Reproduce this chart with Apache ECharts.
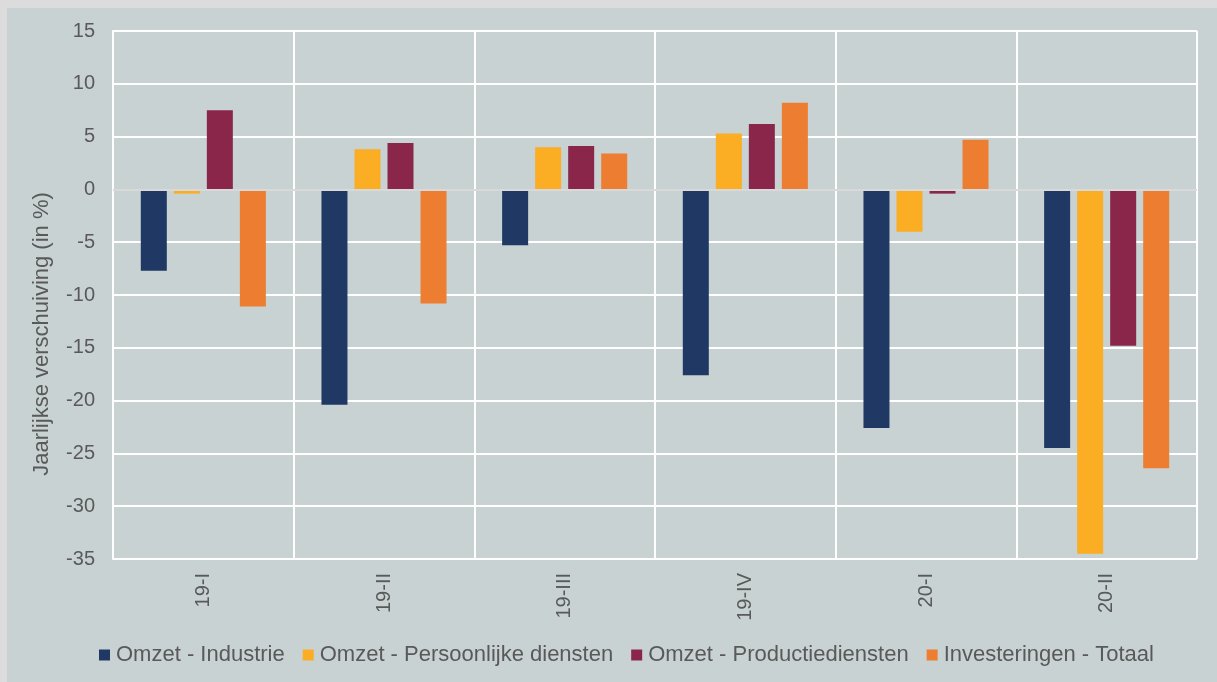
<!DOCTYPE html>
<html lang="nl">
<head>
<meta charset="UTF-8">
<title>Jaarlijkse verschuiving</title>
<script src="https://cdn.jsdelivr.net/npm/echarts@6/dist/echarts.min.js"></script>
<style>
  body { margin: 0; background: #dcdcdc; }
  #chart { position: absolute; left: 7px; top: 8px; width: 1210px; height: 674px; background: #c9d2d3; }
</style>
</head>
<body>
<div id="chart"></div>
<script>
// kwartalen
const categories = ['19-I', '19-II', '19-III', '19-IV', '20-I', '20-II'];

// jaarlijkse verschuiving in %
const industrie    = [-7.7, -20.4, -5.3, -17.6, -22.6, -24.5];
const persoonlijk  = [-0.4,   3.8,  4.0,   5.3,  -4.0, -34.5];
const productie    = [ 7.5,   4.4,  4.1,   6.2,  -0.4, -14.8];
const investering  = [-11.1, -10.8, 3.4,   8.2,   4.7, -26.4];

const seriesNames = ['Omzet - Industrie', 'Omzet - Persoonlijke diensten', 'Omzet - Productiediensten', 'Investeringen - Totaal'];
const colors = ['#1f3864', '#fbad23', '#89264a', '#ed7d31'];
const yTitle = 'Jaarlijkse verschuiving (in %)';

const chart = echarts.init(document.getElementById('chart'));
const txt = '#595959';
const font = 'Liberation Sans, Arial, sans-serif';

chart.setOption({
    animation: false,
    textStyle: { fontFamily: font },
    color: colors,
    grid: { left: 106, right: 20, top: 23, bottom: 123 },
    legend: {
        bottom: 11,
        left: 87,
        itemWidth: 11,
        itemHeight: 11,
        itemGap: 18,
        icon: 'rect',
        textStyle: { color: txt, fontSize: 22, fontFamily: font, padding: [0, 0, 0, 1] },
        data: seriesNames
    },
    // as-titel staat in het origineel wat lager dan het midden van de plot
    graphic: [{
        type: 'text',
        x: 35,
        y: 326,
        rotation: Math.PI / 2,
        style: {
            text: yTitle,
            fill: txt,
            font: '22px ' + font,
            align: 'center',
            verticalAlign: 'middle'
        }
    }],
    xAxis: {
        type: 'category',
        data: categories,
        axisLine: { show: true, lineStyle: { color: '#ffffff', width: 2 } },
        axisTick: { show: false },
        splitLine: { show: true, lineStyle: { color: '#ffffff', width: 2 } },
        axisLabel: { rotate: 90, color: txt, fontSize: 20, margin: 14, fontFamily: font }
    },
    yAxis: {
        type: 'value',
        min: -35,
        max: 15,
        interval: 5,
        axisLine: { show: true, lineStyle: { color: '#ffffff', width: 2 } },
        axisTick: { show: false },
        splitLine: { show: true, lineStyle: { color: '#ffffff', width: 2 } },
        axisLabel: { color: txt, fontSize: 20, margin: 18, fontFamily: font }
    },
    series: [industrie, persoonlijk, productie, investering].map((d, i) => ({
        name: seriesNames[i],
        type: 'bar',
        data: d,
        barWidth: 26,
        barGap: '27%',
        markLine: i === 0 ? {
            silent: true,
            symbol: 'none',
            label: { show: false },
            lineStyle: { color: '#d9d9d9', width: 2, type: 'solid' },
            data: [{ yAxis: 0 }]
        } : undefined
    }))
});
</script>
</body>
</html>
